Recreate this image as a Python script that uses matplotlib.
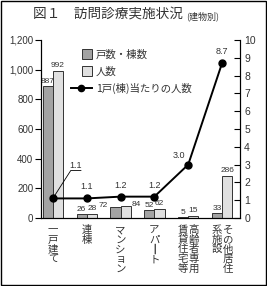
import numpy as np
import matplotlib
matplotlib.use('Agg')
from matplotlib import pyplot as plt
from matplotlib import patches as mpatches
from matplotlib.lines import Line2D
from matplotlib.legend_handler import HandlerPatch

# data
categories = [['一戸建て'], ['連棟'], ['マンション'], ['ア', 'パ', '┃', 'ト'],
              ['高齢者専用', '賃貸住宅等'], ['その他居住', '系施設']]
households = [887, 26, 72, 52, 5, 33]
persons = [992, 28, 84, 62, 15, 286]
per_house = [1.1, 1.1, 1.2, 1.2, 3.0, 8.7]
left_ticks = [0, 200, 400, 600, 800, 1000, 1200]
left_ticklabels = ['0', '200', '400', '600', '800', '1,000', '1,200']
right_ticks = list(range(11))
legend_labels = ['戸数・棟数', '人数', '1戸(棟)当たりの人数']

JP = ['Noto Sans CJK JP', 'DejaVu Sans']
NUM = ['Liberation Sans Narrow', 'Liberation Sans', 'DejaVu Sans']
TXT = '#333333'
DARK = '#a3a3a3'
LIGHT = '#e0e0e0'

plt.rcParams['font.family'] = NUM

fig = plt.figure(figsize=(2.67, 2.86), dpi=100)
fig.patches.append(mpatches.Rectangle((0.002, 0.002), 0.996, 0.995, transform=fig.transFigure,
                                      fill=False, edgecolor='black', lw=1.0))

ax = fig.add_axes([41/267, 68/286, 199/267, 178/286])
ax2 = ax.twinx()

x = np.arange(len(households))
w = 0.3
b1 = ax.bar(x - w/2, households, w, color=DARK, edgecolor='#333333', lw=0.7, zorder=2)
b2 = ax.bar(x + w/2, persons, w, color=LIGHT, edgecolor='#333333', lw=0.7, zorder=2)

ax.set_xlim(-0.35, 5.53)
ax.set_ylim(0, 1200)
ax.set_yticks(left_ticks)
ax.set_yticklabels(left_ticklabels)
ax.set_xticks([])
ax.spines['top'].set_visible(False)
ax.tick_params(axis='y', direction='out', length=4, width=0.8, labelsize=7, pad=1.5)
for lbl in ax.get_yticklabels():
    lbl.set_color(TXT)

ax2.set_ylim(0, 10)
ax2.set_yticks(right_ticks)
ax2.spines['top'].set_visible(False)
ax2.tick_params(axis='y', direction='in', length=4, width=0.8, labelsize=7.5, pad=3)
for lbl in ax2.get_yticklabels():
    lbl.set_color(TXT)

# bar value labels
for bars, vals in [(b1, households), (b2, persons)]:
    for r, v in zip(bars, vals):
        cx = r.get_x() + r.get_width()/2
        if v == 72:
            ax.annotate(str(v), (r.get_x(), v), xytext=(-1.5, 1), textcoords='offset points',
                        ha='right', va='center', fontsize=6, color=TXT)
        elif v == 84:
            ax.annotate(str(v), (r.get_x() + r.get_width(), v), xytext=(1, 1),
                        textcoords='offset points', ha='left', va='center',
                        fontsize=6, color=TXT)
        else:
            ax.annotate(str(v), (cx, v), xytext=(0, 1), textcoords='offset points',
                        ha='center', va='bottom', fontsize=6, color=TXT)

# ratio line
ax2.plot(x, per_house, color='black', lw=1.4, marker='o', ms=5, zorder=3,
         clip_on=False)
for i, v in enumerate(per_house):
    s = '%.1f' % v
    if i == 0:
        ex, ey = x[i] + 0.53, v + 1.57
        ax2.plot([x[i], ex, ex + 0.3], [v, ey, ey], color='black', lw=0.6)
        ax2.text(ex + 0.15, ey + 0.05, s, ha='center', va='bottom', fontsize=6.5, color=TXT)
    elif i == 4:
        ax2.annotate(s, (x[i], v), xytext=(-2, 3), textcoords='offset points',
                     ha='right', va='bottom', fontsize=6.5, color=TXT)
    else:
        ax2.annotate(s, (x[i], v), xytext=(0, 5), textcoords='offset points',
                     ha='center', va='bottom', fontsize=6.5, color=TXT)

# vertical category labels
trans = ax.get_xaxis_transform()
for i, cols in enumerate(categories):
    if len(cols) == 4:
        ax.text(x[i], -0.04, '\n'.join(cols), transform=trans, ha='center', va='top',
                fontsize=7.5, family=JP, color=TXT, linespacing=0.95)
        continue
    n = len(cols)
    for j, col in enumerate(cols):
        off = 0.33 * (n - 1) / 2 - 0.33 * j
        ax.text(x[i] + off, -0.04, '\n'.join(col), transform=trans, ha='center', va='top',
                fontsize=7.5, family=JP, color=TXT, linespacing=0.95)


def square_patch(legend, orig_handle, xdescent, ydescent, width, height, fontsize):
    s = height * 1.35
    return mpatches.Rectangle((width - s - xdescent, (height - s)/2 - ydescent), s, s)


handles = [mpatches.Patch(facecolor=DARK, edgecolor='#333333', lw=0.7),
           mpatches.Patch(facecolor=LIGHT, edgecolor='#333333', lw=0.7),
           Line2D([], [], color='black', lw=1.4, marker='o', ms=4.5)]
leg = ax.legend(handles, legend_labels, loc='upper left', bbox_to_anchor=(0.15, 0.945),
                frameon=False, prop={'family': JP, 'size': 7.5}, handlelength=2.0,
                handletextpad=0.4, labelspacing=0.6, borderpad=0, borderaxespad=0,
                handler_map={mpatches.Patch: HandlerPatch(patch_func=square_patch)})
for t in leg.get_texts():
    t.set_color(TXT)

# title
fig.text(33/267, 1 - 15/286, '図１　訪問診療実施状況', family=JP, fontsize=9.8,
         ha='left', va='center', color=TXT)
fig.text(186/267, 1 - 16/286, '(建物別)', family=JP, fontsize=6.5, ha='left',
         va='center', color=TXT)

plt.savefig('out.png', dpi=100)
